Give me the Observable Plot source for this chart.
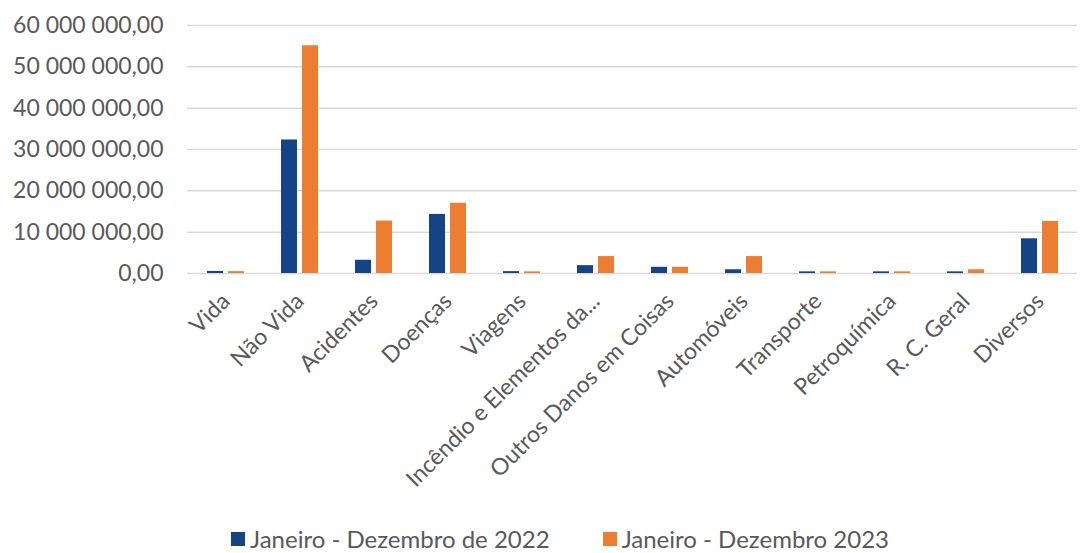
<!DOCTYPE html>
<html>
<head>
<meta charset="utf-8">
<script src="https://cdn.jsdelivr.net/npm/d3@7"></script>
<script src="https://cdn.jsdelivr.net/npm/@observablehq/plot@0.6"></script>
<style>
  body { margin: 0; background: #fff; font-family: Lato, "Open Sans", sans-serif; overflow: hidden; }
  #chart svg { display: block; }
  #legend { display: flex; justify-content: center; gap: 53px; font-size: 24px; line-height: 26px; color: #595959; margin-top: 4px; padding-left: 40px; }
  #legend span.item { display: flex; align-items: center; }
  #legend span.sw { display: inline-block; width: 14px; height: 14px; margin-right: 5px; }
</style>
</head>
<body>
<div id="chart"></div>
<div id="legend"></div>
<script>
const categories = ["Vida", "Não Vida", "Acidentes", "Doenças", "Viagens", "Incêndio e Elementos da...", "Outros Danos em Coisas", "Automóveis", "Transporte", "Petroquímica", "R. C. Geral", "Diversos"];
const series = ["Janeiro - Dezembro de 2022", "Janeiro - Dezembro 2023"];
const values2022 = [500000, 32300000, 3200000, 14300000, 450000, 1900000, 1500000, 900000, 400000, 400000, 400000, 8400000];
const values2023 = [450000, 55100000, 12700000, 17000000, 400000, 4100000, 1500000, 4100000, 400000, 400000, 900000, 12600000];
const colors = ["#154388", "#ED7D31"];
const yTicks = [0, 10000000, 20000000, 30000000, 40000000, 50000000, 60000000];

const rows2022 = categories.map((c, i) => ({category: c, value: values2022[i]}));
const rows2023 = categories.map((c, i) => ({category: c, value: values2023[i]}));

const locale = d3.formatLocale({decimal: ",", thousands: "\u00a0", grouping: [3], currency: ["", ""]});
const fmt = locale.format(",.2f");

const chart = Plot.plot({
  width: 1080,
  height: 522,
  marginLeft: 187,
  marginRight: 3,
  marginTop: 25,
  marginBottom: 249,
  style: {fontFamily: "Lato, 'Open Sans', sans-serif", fontSize: "23px", color: "#595959", background: "#fff"},
  x: {domain: categories, paddingInner: 0.5, paddingOuter: 0.25, label: null},
  y: {domain: [0, 60000000], label: null},
  marks: [
    Plot.gridY(yTicks, {stroke: "#d9d9d9", strokeOpacity: 1, strokeWidth: 1.5}),
    Plot.barY(rows2022, {x: "category", y: "value", fill: colors[0], insetRight: 21}),
    Plot.barY(rows2023, {x: "category", y: "value", fill: colors[1], insetLeft: 21}),
    Plot.axisY(yTicks, {tickSize: 0, tickPadding: 24, tickFormat: fmt, fontSize: 23, fill: "#595959", label: null}),
    Plot.axisX({tickRotate: -45, tickSize: 0, tickPadding: 24, fontSize: 23, fill: "#595959", label: null})
  ]
});
document.getElementById("chart").appendChild(chart);

const legend = document.getElementById("legend");
series.forEach((s, i) => {
  const item = document.createElement("span");
  item.className = "item";
  const sw = document.createElement("span");
  sw.className = "sw";
  sw.style.background = colors[i];
  item.appendChild(sw);
  item.appendChild(document.createTextNode(s));
  legend.appendChild(item);
});
</script>
</body>
</html>
